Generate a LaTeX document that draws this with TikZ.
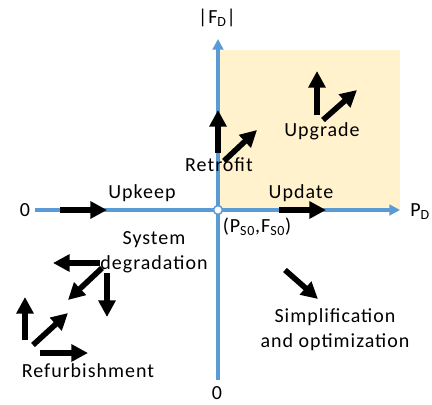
\documentclass[tikz,border=0pt]{standalone}
\usepackage{fontspec}
\setmainfont{Carlito}[LetterSpace=5]
\usetikzlibrary{arrows.meta}
\definecolor{axisBlue}{HTML}{5B9BD5}
\definecolor{paleGold}{HTML}{FFF2CC}
\tikzset{
  axis/.style={axisBlue, line width=2.5pt, -{Triangle[length=8pt,width=8pt]}},
  move/.style={line width=4.2pt, -{Triangle[length=12.5pt,width=12.5pt]}},
  tag/.style={inner sep=0pt, font=\fontsize{15}{18.75}\selectfont, align=center}
}

\begin{document}
\begin{tikzpicture}[x=0.75pt,y=0.75pt]
    \useasboundingbox (-218,-194) rectangle (214,210);
    \fill[paleGold] (0,0) rectangle (182,160);
    \draw[axis] (-183,0) -- (182,0);
    \draw[axis] (0,-170) -- (0,171);
    \draw[axisBlue, line width=1.1pt, fill=white] (0,0) circle (3.3pt);
    % axis labels
    \node[tag] (fd) at (-1,192) {|F\textsubscript{D}|};
    \node[tag, anchor=west] (pd) at (192,-2) {P\textsubscript{D}};
    \node[tag] (zeroP) at (-193,0) {0};
    \node[tag] (zeroF) at (-1,-183) {0};
    \node[tag] (origin) at (39,-17) {(P\textsubscript{S0},F\textsubscript{S0})};
    % strategies
    \node[tag] (upkeep) at (-76,17) {Upkeep};
    \node[tag] (update) at (83,17) {Update};
    \node[tag] (retrofit) at (1,45) {Retrofit};
    \node[tag] (upgrade) at (104,79) {Upgrade};
    \node[tag] (degrade) at (-64,-42) {System\\degradation};
    \node[tag] (simplify) at (117,-120) {Simplification\\and optimization};
    \node[tag] (refurb) at (-130,-161) {Refurbishment};
    % moves
    \draw[move] (-158,0) -- (-111,0);
    \draw[move] (61,0) -- (108,0);
    \draw[move] (0,57) -- (0,100);
    \draw[move] (6,49) -- (39,80);
    \draw[move] (99,95) -- (99,139);
    \draw[move] (105,90) -- (139,120);
    \draw[move] (67,-60) -- (100,-89);
    \draw[move] (-118,-53) -- (-165,-53);
    \draw[move] (-116,-58) -- (-150,-90);
    \draw[move] (-111,-63) -- (-111,-107);
    \draw[move] (-193,-130) -- (-193,-87);
    \draw[move] (-185,-135) -- (-150,-103);
    \draw[move] (-178,-143) -- (-130,-143);
\end{tikzpicture}
\end{document}
